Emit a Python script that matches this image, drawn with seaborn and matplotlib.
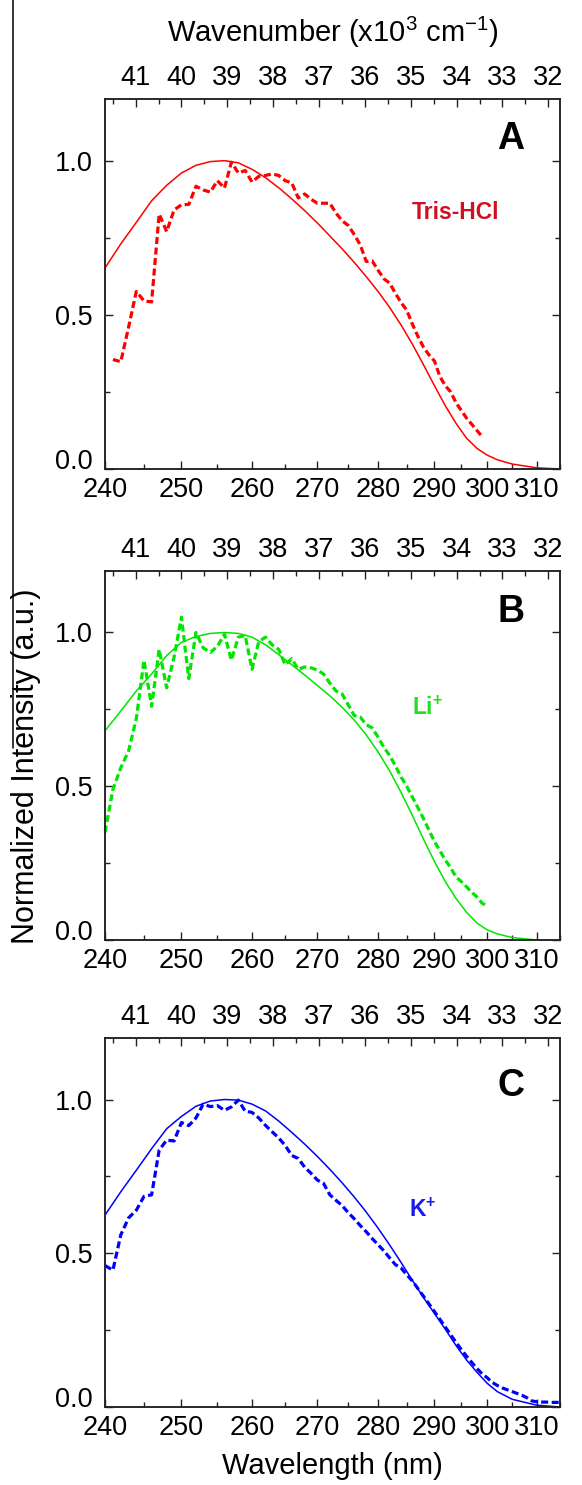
import numpy as np
import matplotlib
matplotlib.use("Agg")
import matplotlib.pyplot as plt
from matplotlib.lines import Line2D
from matplotlib.ticker import MultipleLocator, FormatStrFormatter
import seaborn as sns

# ---- panel A : Tris-HCl ----
wl_fit_a = [240, 242, 244, 246, 248, 250, 252, 254, 256, 258, 260, 262, 264, 266, 268, 270, 272,
            274, 276, 278, 280, 282, 284, 286, 288, 290, 292, 294, 296, 298, 300, 302, 305, 310, 315]
fit_a = [0.652, 0.73, 0.80, 0.87, 0.92, 0.96, 0.985, 0.997, 1.0, 0.993, 0.972, 0.945, 0.912, 0.876,
         0.838, 0.798, 0.756, 0.714, 0.670, 0.624, 0.576, 0.524, 0.467, 0.405, 0.338, 0.27, 0.205,
         0.148, 0.10, 0.067, 0.045, 0.03, 0.016, 0.004, 0.0]
wl_exp_a = np.arange(241, 300)
exp_a = [0.355, 0.348, 0.46, 0.576, 0.545, 0.542, 0.827, 0.77, 0.84, 0.857,
         0.858, 0.917, 0.905, 0.898, 0.935, 0.911, 0.995, 0.96, 0.968, 0.931,
         0.949, 0.952, 0.957, 0.952, 0.935, 0.928, 0.879, 0.892, 0.875, 0.862,
         0.862, 0.862, 0.83, 0.805, 0.79, 0.76, 0.727, 0.673, 0.675, 0.645,
         0.617, 0.603, 0.57, 0.54, 0.515, 0.47, 0.43, 0.395, 0.37, 0.35,
         0.30, 0.27, 0.25, 0.215, 0.19, 0.165, 0.145, 0.125, 0.105]

# ---- panel B : Li+ ----
wl_fit_b = [240, 242, 244, 246, 248, 250, 252, 254, 256, 258, 260, 262, 264, 266, 268, 270, 272,
            274, 276, 278, 280, 282, 284, 286, 288, 290, 292, 294, 296, 298, 300, 302, 305, 310]
fit_b = [0.68, 0.745, 0.81, 0.865, 0.925, 0.968, 0.987, 0.997, 1.0, 0.997, 0.985, 0.96, 0.928,
         0.895, 0.862, 0.828, 0.794, 0.757, 0.715, 0.667, 0.612, 0.55, 0.48, 0.405, 0.328, 0.255,
         0.19, 0.135, 0.09, 0.055, 0.033, 0.02, 0.008, 0.0]
wl_exp_b = np.arange(240, 301)
exp_b = [0.35, 0.49, 0.56, 0.615, 0.72, 0.91, 0.76, 0.945, 0.82, 0.92,
         1.05, 0.85, 1.0, 0.95, 0.935, 0.955, 0.995, 0.91, 0.985, 0.99,
         0.88, 0.97, 0.985, 0.96, 0.945, 0.895, 0.915, 0.88, 0.888, 0.885,
         0.878, 0.865, 0.835, 0.81, 0.80, 0.765, 0.73, 0.725, 0.70, 0.69,
         0.66, 0.627, 0.60, 0.567, 0.53, 0.50, 0.465, 0.43, 0.395, 0.357,
         0.32, 0.29, 0.26, 0.235, 0.205, 0.19, 0.173, 0.155, 0.14, 0.12,
         0.11]

# ---- panel C : K+ ----
wl_fit_c = wl_fit_a
fit_c = [0.624, 0.70, 0.77, 0.84, 0.905, 0.945, 0.978, 0.995, 1.0, 0.998, 0.985, 0.963, 0.93,
         0.893, 0.855, 0.815, 0.773, 0.729, 0.683, 0.634, 0.582, 0.527, 0.47, 0.412, 0.356, 0.304,
         0.253, 0.20, 0.153, 0.113, 0.077, 0.05, 0.025, 0.006, 0.0]
wl_exp_c = np.arange(240, 316)
exp_c = [0.46, 0.445, 0.56, 0.615, 0.64, 0.685, 0.69, 0.835, 0.868, 0.865,
         0.925, 0.915, 0.94, 0.985, 0.977, 0.98, 0.965, 0.976, 0.998, 0.962,
         0.958, 0.94, 0.916, 0.895, 0.875, 0.85, 0.818, 0.808, 0.78, 0.76,
         0.738, 0.727, 0.69, 0.672, 0.655, 0.632, 0.612, 0.59, 0.57, 0.548,
         0.528, 0.508, 0.485, 0.463, 0.452, 0.43, 0.41, 0.385, 0.36, 0.335,
         0.31, 0.285, 0.26, 0.235, 0.21, 0.187, 0.165, 0.145, 0.125, 0.108,
         0.095, 0.08, 0.07, 0.062, 0.056, 0.05, 0.044, 0.038, 0.03, 0.02,
         0.017, 0.016, 0.016, 0.015, 0.015, 0.015]

panels = [
    ("A", "Tris-HCl", wl_fit_a, fit_a, wl_exp_a, exp_a, 315, "#ff0000", "#d01020", (0.771, 0.692)),
    ("B", r"$\mathbf{Li^{+}}$", wl_fit_b, fit_b, wl_exp_b, exp_b, 310, "#00e600", "#22dd22", (0.708, 0.629)),
    ("C", r"$\mathbf{K^{+}}$", wl_fit_c, fit_c, wl_exp_c, exp_c, 315, "#0000ff", "#1a1aee", (0.699, 0.534)),
]

sns.set_style("ticks")
plt.rcParams['font.family'] = ['Liberation Sans', 'DejaVu Sans']
plt.rcParams['mathtext.fontset'] = 'custom'
plt.rcParams['mathtext.rm'] = 'Liberation Sans'
plt.rcParams['mathtext.bf'] = 'Liberation Sans:bold'
plt.rcParams['axes.linewidth'] = 1.1
plt.rcParams['axes.edgecolor'] = '#222222'
plt.rcParams['text.color'] = 'black'
plt.rcParams['axes.labelcolor'] = 'black'


def to_wavenumber(x):
    with np.errstate(divide='ignore', invalid='ignore'):
        return -1e4 / np.asarray(x, dtype=float)


def from_wavenumber(k):
    with np.errstate(divide='ignore', invalid='ignore'):
        return -1e4 / np.asarray(k, dtype=float)


W, H = 582, 1485
fig = plt.figure(figsize=(W / 100, H / 100), dpi=100)
tick_fs = 19.5
lab_fs = 21

tops = [99, 571, 1038]
bottoms = [469, 940, 1407]
letter_y = [0.893, 0.889, 0.87]

for i, (letter, lab, wf, yf, we, ye, xmax, col, tcol, tpos) in enumerate(panels):
    ax = fig.add_axes([105 / W, 1 - bottoms[i] / H, 455 / W, (bottoms[i] - tops[i]) / H])
    ax.set_xscale('function', functions=(to_wavenumber, from_wavenumber))
    sns.lineplot(x=wf, y=yf, ax=ax, color=col, lw=1.1)
    sns.lineplot(x=we, y=ye, ax=ax, color=col, lw=2.3, linestyle=(0, (2.2, 1.1)))
    ax.set_xlim(240, xmax)
    ax.set_ylim(0, 1.2)
    ax.set_xticks(range(240, 320, 10))
    ax.set_xticks(range(245, 320, 10), minor=True)
    ax.set_yticks([0, 0.5, 1.0])
    ax.yaxis.set_minor_locator(MultipleLocator(0.25))
    ax.yaxis.set_major_formatter(FormatStrFormatter('%.1f'))
    ax.tick_params(which='both', direction='in', top=False, right=True, width=1.0, colors='#222222',
                   labelsize=tick_fs, labelcolor='black')
    ax.tick_params(axis='x', which='major', length=5.5, pad=6)
    ax.tick_params(axis='y', which='major', length=5.5, pad=9)
    ax.tick_params(which='minor', length=3.5)
    ax.set_xlabel('')
    ax.set_ylabel('')
    # the 0.0 label sits a little above its tick, clear of the 240 label
    ax.yaxis.get_major_ticks()[0].label1.set_verticalalignment('baseline')

    top = ax.twiny()
    top.set_xlim(1e4 / 240, 1e4 / 315)
    top.xaxis.set_major_locator(MultipleLocator(1))
    top.xaxis.set_minor_locator(MultipleLocator(0.5))
    top.xaxis.set_major_formatter(FormatStrFormatter('%d'))
    top.tick_params(which='both', direction='in', width=1.0, colors='#222222',
                    labelsize=tick_fs, labelcolor='black', pad=6)
    top.tick_params(which='major', length=5.5)
    top.tick_params(which='minor', length=3.5)
    for sp in top.spines.values():
        sp.set_linewidth(1.1)

    ax.text(0.892, letter_y[i], letter, transform=ax.transAxes, fontsize=27, fontweight='bold',
            color='black', ha='center', va='center')
    ax.text(tpos[0], tpos[1], lab, transform=ax.transAxes, fontsize=16.5, fontweight='bold',
            color=tcol, ha='center', va='center')

    if i == 0:
        top.set_xlabel(r'Wavenumber (x10$^3$ cm$^{-1}$)', fontsize=lab_fs, labelpad=16)
    if i == 2:
        ax.set_xlabel('Wavelength (nm)', fontsize=lab_fs, labelpad=8)

fig.text(26 / W, 1 - 766 / H, 'Normalized Intensity (a.u.)', rotation=90, ha='center', va='center',
         fontsize=22, color='black')
# thin border line left over from the original figure crop
fig.add_artist(Line2D([13 / W, 13 / W], [1, 1 - 748 / H], color='black', lw=1.1,
                      transform=fig.transFigure))

fig.savefig('out.png', dpi=100)
